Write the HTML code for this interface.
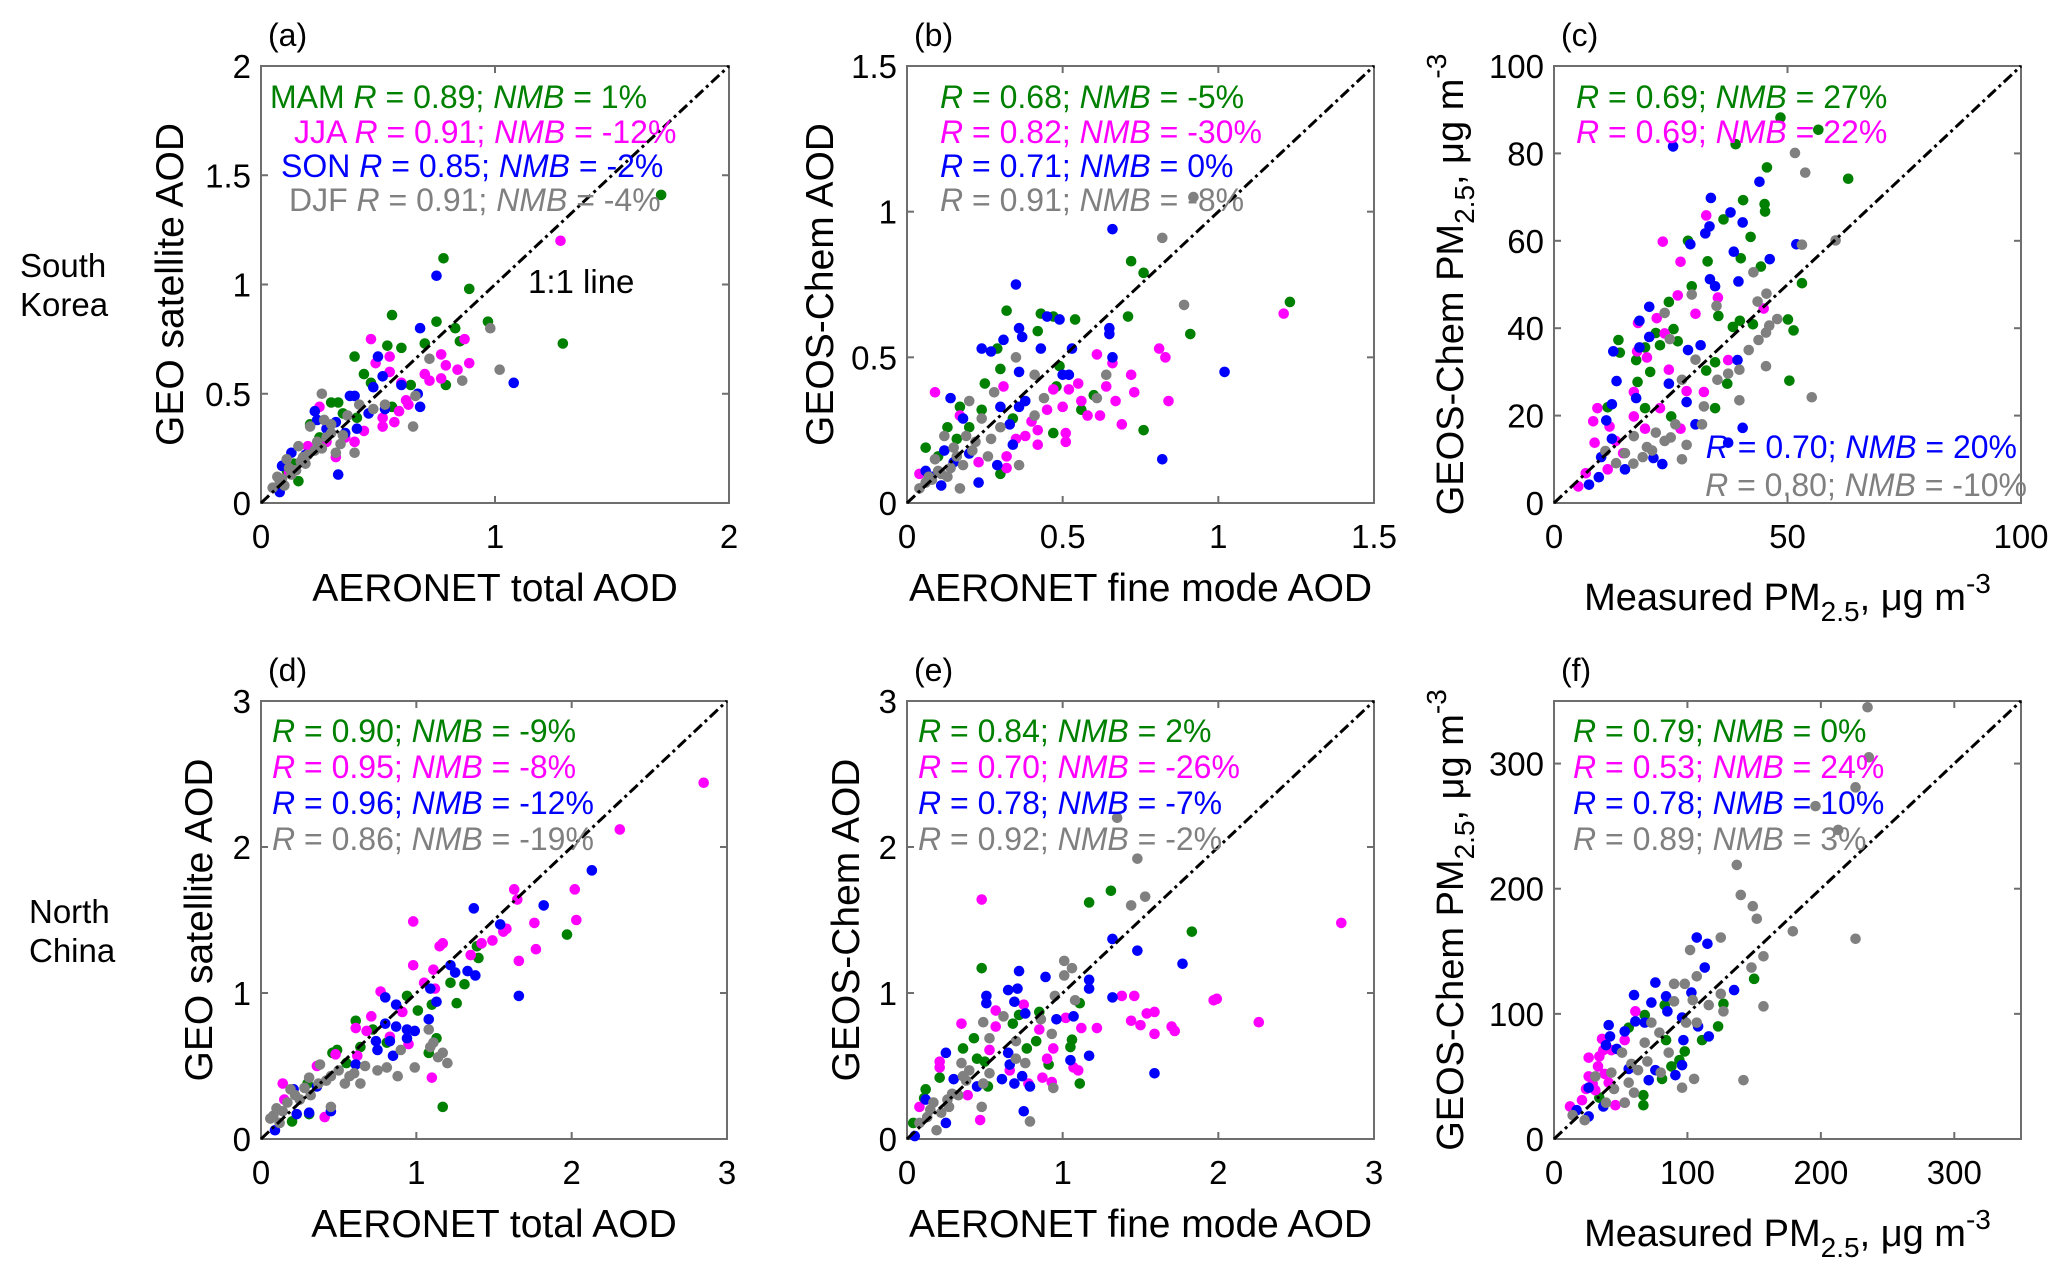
<!DOCTYPE html>
<html><head><meta charset="utf-8">
<style>
html,body{margin:0;padding:0;background:#fff;}
svg{display:block;font-family:"Liberation Sans",Arial,sans-serif;}
</style></head>
<body>
<svg id="fig" width="2067" height="1283" viewBox="0 0 2067 1283" xmlns="http://www.w3.org/2000/svg"></svg>
<script>
// ---- data (x = observed, y = model/satellite) ----
const aMAM=[[0.78,1.12],[0.89,0.98],[0.56,0.86],[0.75,0.83],[0.97,0.83],[0.83,0.80],[1.29,0.73],[1.71,1.41],[0.40,0.67],[0.54,0.72],[0.60,0.71],[0.70,0.73],[0.85,0.74],[0.79,0.54],[0.44,0.59],[0.47,0.55],[0.64,0.54],[0.30,0.46],[0.33,0.46],[0.35,0.41],[0.21,0.36],[0.16,0.10],[0.56,0.44],[0.41,0.39],[0.11,0.15],[0.14,0.18],[0.25,0.30]];
const aJJA=[[1.28,1.20],[0.47,0.75],[0.87,0.75],[0.89,0.64],[0.77,0.68],[0.79,0.63],[0.84,0.61],[0.70,0.59],[0.77,0.57],[0.72,0.56],[0.55,0.67],[0.55,0.60],[0.49,0.64],[0.60,0.55],[0.62,0.47],[0.63,0.45],[0.59,0.42],[0.52,0.39],[0.57,0.37],[0.52,0.35],[0.44,0.33],[0.40,0.28],[0.25,0.44],[0.32,0.21],[0.28,0.28],[0.20,0.26],[0.36,0.30],[0.12,0.14]];
const aSON=[[0.75,1.04],[0.68,0.80],[0.50,0.67],[0.52,0.58],[1.08,0.55],[0.68,0.44],[0.67,0.50],[0.60,0.54],[0.38,0.49],[0.40,0.49],[0.48,0.53],[0.23,0.42],[0.24,0.38],[0.32,0.37],[0.41,0.34],[0.46,0.41],[0.33,0.13],[0.13,0.23],[0.09,0.17],[0.08,0.05],[0.53,0.43],[0.36,0.32],[0.19,0.22],[0.28,0.34]];
const aDJF=[[0.98,0.80],[0.72,0.66],[1.02,0.61],[0.86,0.56],[0.65,0.35],[0.40,0.23],[0.26,0.50],[0.53,0.45],[0.48,0.43],[0.42,0.45],[0.66,0.49],[0.21,0.35],[0.30,0.32],[0.35,0.31],[0.24,0.28],[0.16,0.26],[0.11,0.20],[0.19,0.18],[0.07,0.12],[0.05,0.07],[0.32,0.23],[0.27,0.38],[0.15,0.15],[0.23,0.24],[0.10,0.08],[0.34,0.27],[0.13,0.13],[0.18,0.21],[0.28,0.30],[0.08,0.10],[0.12,0.16],[0.20,0.22],[0.26,0.25],[0.30,0.36],[0.37,0.40],[0.17,0.19],[0.09,0.11]];

const bMAM=[[0.72,0.83],[0.76,0.79],[0.32,0.66],[0.43,0.65],[0.47,0.64],[0.54,0.63],[0.71,0.64],[0.42,0.59],[0.91,0.58],[1.23,0.69],[0.29,0.53],[0.30,0.46],[0.25,0.41],[0.49,0.47],[0.76,0.25],[0.47,0.24],[0.56,0.32],[0.17,0.33],[0.24,0.32],[0.06,0.19],[0.13,0.26],[0.30,0.10],[0.20,0.26],[0.60,0.37],[0.48,0.40],[0.34,0.29],[0.10,0.16],[0.16,0.22]];
const bJJA=[[1.21,0.65],[0.81,0.53],[0.83,0.50],[0.61,0.51],[0.72,0.44],[0.66,0.48],[0.55,0.41],[0.52,0.39],[0.73,0.38],[0.84,0.35],[0.67,0.35],[0.56,0.35],[0.47,0.39],[0.45,0.32],[0.50,0.33],[0.58,0.30],[0.62,0.30],[0.69,0.27],[0.42,0.25],[0.51,0.24],[0.42,0.20],[0.51,0.21],[0.38,0.23],[0.09,0.38],[0.31,0.40],[0.32,0.12],[0.32,0.16],[0.23,0.14],[0.17,0.30],[0.04,0.10],[0.64,0.40],[0.40,0.28],[0.35,0.22]];
const bSON=[[0.66,0.94],[0.35,0.75],[0.45,0.64],[0.49,0.63],[0.36,0.60],[0.65,0.60],[0.65,0.58],[0.37,0.57],[0.31,0.56],[0.24,0.53],[0.27,0.52],[0.43,0.53],[0.53,0.53],[0.66,0.50],[1.02,0.45],[0.36,0.45],[0.50,0.44],[0.52,0.44],[0.14,0.36],[0.30,0.33],[0.36,0.33],[0.38,0.35],[0.18,0.29],[0.33,0.27],[0.34,0.20],[0.29,0.13],[0.23,0.07],[0.82,0.15],[0.12,0.18],[0.06,0.11],[0.11,0.06],[0.20,0.17],[0.08,0.09],[0.15,0.14]];
const bDJF=[[0.92,1.05],[0.82,0.91],[0.89,0.68],[0.35,0.50],[0.41,0.44],[0.64,0.44],[0.28,0.38],[0.44,0.36],[0.61,0.36],[0.20,0.35],[0.41,0.30],[0.24,0.29],[0.36,0.13],[0.17,0.05],[0.12,0.23],[0.15,0.19],[0.18,0.13],[0.26,0.16],[0.27,0.22],[0.08,0.08],[0.04,0.05],[0.13,0.09],[0.22,0.21],[0.30,0.26],[0.09,0.15],[0.19,0.23],[0.06,0.07],[0.10,0.11],[0.14,0.12],[0.11,0.10],[0.16,0.16],[0.07,0.09],[0.21,0.18]];

const cMAM=[[48.5,88.2],[56.6,85.4],[38.9,82.1],[45.6,76.8],[63,74.2],[40.5,69.3],[45.1,68.4],[45.2,66.7],[36.3,64.9],[42.1,60.9],[32.9,55.3],[40,56],[44.3,54.1],[53.1,50.3],[28.7,60],[24.6,46],[29.5,49.6],[35.2,42.8],[39.8,41.7],[42.6,40.9],[50.1,42],[51.3,39.5],[50.4,28],[38.3,40.3],[34.5,32.2],[13.8,37.3],[14.1,34.4],[17.6,32.7],[19.5,35.6],[21.8,38.9],[22.7,36.1],[25.6,39.8],[26.5,37],[34.5,21.7],[17.9,27.7],[19.5,21.7],[20.6,30],[37.1,27.3],[32.6,30.3],[25.1,19.8],[11.5,21.9]];
const cJJA=[[32.6,65.8],[23.3,59.8],[27.1,55.2],[35.1,47],[30.3,43.3],[44.9,44.5],[18,41.2],[22,42.3],[26.5,47.5],[37.3,32.7],[17.8,34.7],[19.9,33.3],[24.6,30.5],[9.3,21.7],[8.4,18.7],[8.7,13.8],[6.8,6.8],[5.2,3.8],[11.9,17.5],[13.2,14.2],[17.1,19.8],[19.5,17],[22.7,21.7],[28.4,25.6],[32.1,25.4],[27.1,17],[11.5,7.7],[14.8,11.4],[17.1,25.4],[23.7,38.8]];
const cSON=[[25.5,81.6],[44,73.5],[33.6,69.8],[37.8,66.5],[40.4,64.2],[33.3,63.3],[32.4,61.7],[29.2,59.2],[38.5,57.5],[46.2,55.8],[51.9,59.2],[33.4,51.2],[34.5,49.6],[39.5,50.7],[20.4,44.9],[18.3,41.7],[12.7,34.7],[13.4,27.9],[20.4,38],[18.3,35.6],[31.4,36.1],[28.7,35],[39.3,32.7],[24.6,27.3],[17.6,24],[12.4,22.6],[11.2,18.9],[12.4,14.7],[10.1,10.5],[9.6,5.9],[7.5,4.2],[21.3,10.3],[23.2,8.9],[40.4,17.2],[37.3,13.8],[15.2,7.7],[28.4,23.1],[30.3,18]];
const cDJF=[[51.6,80.1],[53.8,75.6],[53.1,59.1],[60.3,60.1],[42.7,52.8],[43.6,46.1],[45.5,47.9],[47.8,42.1],[46.1,40.6],[45.4,39],[43.8,37.3],[41.7,35],[45.4,31.3],[55.2,24.2],[39.7,23.5],[34.8,45.1],[23.7,43.5],[24.8,37.5],[27.4,28.2],[29.5,47.7],[32.1,22.1],[31.7,18],[27.4,10],[28.4,13.3],[21.8,16.1],[23.7,14.2],[19.9,12.8],[15.2,11.4],[13.3,9.1],[11,11.9],[35,28.2],[37.3,29.6],[39.7,30.5],[17.1,15.3],[19,10.5],[30.3,32.8],[25,15],[21,12],[26,18],[17,9]];

const dMAM=[[1.97,1.40],[1.17,0.22],[1.39,1.32],[1.40,1.24],[1.31,1.06],[1.26,0.93],[1.01,0.88],[1.10,0.92],[0.94,0.98],[1.13,0.69],[1.08,0.59],[0.61,0.81],[0.81,0.66],[0.49,0.61],[0.46,0.59],[0.72,0.75],[0.30,0.38],[0.20,0.12],[0.31,0.17],[0.64,0.63],[1.22,1.07],[0.55,0.52]];
const dJJA=[[2.85,2.44],[2.31,2.12],[2.02,1.71],[2.03,1.50],[1.63,1.71],[1.65,1.64],[1.76,1.48],[1.77,1.30],[1.66,1.22],[1.58,1.44],[1.56,1.42],[1.49,1.36],[1.42,1.34],[1.35,1.26],[0.98,1.49],[0.98,1.19],[1.15,1.32],[1.17,1.34],[1.11,1.16],[1.05,1.07],[1.12,1.03],[0.77,1.01],[0.91,0.87],[1.10,0.42],[0.68,0.74],[0.61,0.76],[0.71,0.84],[0.83,0.70],[0.95,0.65],[0.48,0.58],[0.62,0.57],[0.14,0.38],[0.41,0.15],[0.15,0.27],[0.36,0.50]];
const dSON=[[2.13,1.84],[1.82,1.60],[1.37,1.58],[1.54,1.47],[1.66,0.98],[1.38,1.12],[1.33,1.15],[1.22,1.19],[1.25,1.14],[1.09,1.03],[1.13,0.94],[1.08,0.82],[0.80,0.97],[0.87,0.92],[0.80,0.79],[0.87,0.77],[0.94,0.75],[0.99,0.74],[0.94,0.69],[0.83,0.67],[0.74,0.67],[0.75,0.61],[0.85,0.57],[0.61,0.51],[0.45,0.19],[0.31,0.18],[0.23,0.17],[0.09,0.06],[0.36,0.36],[0.21,0.34]];
const dDJF=[[1.08,0.75],[1.09,0.63],[1.11,0.66],[1.17,0.59],[1.14,0.56],[1.20,0.52],[0.99,0.49],[0.90,0.61],[0.88,0.43],[0.75,0.47],[0.81,0.49],[0.67,0.50],[0.57,0.43],[0.54,0.38],[0.45,0.43],[0.37,0.38],[0.31,0.42],[0.38,0.51],[0.19,0.34],[0.25,0.27],[0.45,0.22],[0.10,0.21],[0.06,0.14],[0.12,0.11],[0.64,0.38],[0.50,0.47],[0.32,0.30],[0.17,0.25],[0.08,0.16],[0.14,0.19],[0.60,0.45],[0.42,0.40],[0.22,0.30],[0.28,0.35]];

const eMAM=[[1.31,1.70],[1.17,1.62],[1.83,1.42],[0.48,1.17],[1.11,0.93],[0.85,0.87],[0.72,0.85],[0.68,0.79],[1.06,0.68],[1.05,0.63],[0.83,0.67],[0.77,0.62],[0.36,0.62],[0.43,0.69],[0.45,0.55],[0.91,0.51],[1.11,0.38],[0.21,0.42],[0.12,0.34],[0.11,0.28],[0.52,0.36],[0.04,0.11],[0.50,0.53]];
const eJJA=[[2.79,1.48],[0.48,1.64],[1.97,0.95],[1.99,0.96],[2.26,0.80],[1.59,0.87],[1.54,0.86],[1.44,0.81],[1.50,0.78],[1.59,0.72],[1.70,0.77],[1.72,0.74],[1.38,0.98],[1.46,0.98],[1.22,0.76],[1.12,0.76],[1.02,0.83],[1.07,0.49],[1.10,0.47],[0.94,0.62],[0.90,0.55],[0.85,0.75],[0.93,0.39],[0.87,0.42],[0.78,0.38],[0.75,0.92],[0.57,0.88],[0.57,0.77],[0.35,0.79],[0.53,0.61],[0.21,0.53],[0.21,0.49],[0.47,0.13],[0.39,0.30],[0.08,0.22],[0.66,0.47]];
const eSON=[[1.32,1.37],[1.48,1.29],[1.77,1.20],[0.72,1.15],[0.89,1.11],[1.17,1.09],[1.17,1.03],[0.65,1.02],[0.71,1.03],[0.51,0.98],[0.51,0.93],[0.69,0.94],[1.32,0.97],[0.76,0.86],[0.96,0.82],[1.07,0.84],[1.17,0.57],[1.05,0.54],[1.59,0.45],[0.25,0.59],[0.65,0.59],[0.66,0.51],[0.61,0.41],[0.69,0.38],[0.74,0.43],[0.79,0.36],[0.75,0.19],[0.25,0.11],[0.45,0.36],[0.12,0.27],[0.05,0.02],[0.30,0.41]];
const eDJF=[[1.35,2.20],[1.48,1.92],[1.53,1.66],[1.44,1.60],[1.01,1.22],[1.06,1.17],[1.01,1.12],[1.08,0.95],[0.95,0.98],[0.86,0.82],[0.93,0.72],[0.70,0.67],[0.76,0.52],[0.70,0.55],[0.62,0.84],[0.49,0.80],[0.53,0.69],[0.35,0.52],[0.36,0.43],[0.49,0.38],[0.48,0.22],[0.79,0.12],[0.94,0.35],[0.53,0.45],[0.27,0.22],[0.19,0.06],[0.17,0.25],[0.08,0.11],[0.40,0.47],[0.29,0.31],[0.13,0.15],[0.22,0.18],[0.33,0.30],[0.26,0.27],[0.38,0.40],[0.15,0.20]];

const fMAM=[[150,128],[127,108],[123,90],[98,70],[94,63],[84,79],[81,48],[67,35],[67,27],[68,99],[83,107],[56,89],[111,79],[88,58],[34,33]];
const fJJA=[[61,102],[36,80],[37,71],[26,65],[34,66],[26,50],[33,58],[43,71],[53,79],[12,26],[21,31],[46,27],[53,29],[31,39],[41,45],[29,44],[38,52],[24,40]];
const fSON=[[107,161],[115,156],[113,137],[76,125],[60,115],[73,109],[84,114],[85,102],[103,117],[135,119],[96,97],[108,90],[116,82],[61,94],[41,91],[42,82],[39,75],[47,72],[53,86],[68,93],[97,79],[96,59],[91,51],[71,47],[76,55],[26,41],[37,26],[17,23],[26,18],[56,56]];
const fDJF=[[235,345],[236,305],[226,281],[196,266],[213,247],[137,219],[140,195],[149,186],[152,176],[179,166],[226,160],[125,161],[102,151],[157,146],[148,137],[157,106],[142,47],[125,116],[116,107],[127,102],[107,130],[98,124],[90,124],[90,110],[104,111],[99,93],[107,93],[79,85],[68,77],[73,93],[86,69],[105,48],[96,41],[60,37],[53,29],[39,29],[31,50],[43,53],[51,69],[23,15],[14,19],[63,55],[80,53],[56,45],[70,62],[58,60],[45,40]];

const seasons=['MAM','JJA','SON','DJF'];
const seasonColors=['#008000','#ff00ff','#0000ff','#808080'];

const aStats=[['MAM ','0.89','1%'],['JJA ','0.91','-12%'],['SON ','0.85','-2%'],['DJF ','0.91','-4%']];
const bStats=[['','0.68','-5%'],['','0.82','-30%'],['','0.71','0%'],['','0.91','-8%']];
const cStats=[['','0.69','27%'],['','0.69','22%'],['','0.70','20%'],['','0.80','-10%']];
const dStats=[['','0.90','-9%'],['','0.95','-8%'],['','0.96','-12%'],['','0.86','-19%']];
const eStats=[['','0.84','2%'],['','0.70','-26%'],['','0.78','-7%'],['','0.92','-2%']];
const fStats=[['','0.79','0%'],['','0.53','24%'],['','0.78','10%'],['','0.89','3%']];

const aTicks=[0,0.5,1,1.5,2], aXTicks=[0,1,2];
const bTicks=[0,0.5,1,1.5];
const cYTicks=[0,20,40,60,80,100], cXTicks=[0,50,100];
const dTicks=[0,1,2,3];
const fTicks=[0,100,200,300];

const svg=document.getElementById('fig');
const NS='http://www.w3.org/2000/svg';
function mk(tag,attrs,parent){const e=document.createElementNS(NS,tag);for(const k in attrs)e.setAttribute(k,attrs[k]);(parent||svg).appendChild(e);return e;}

const panels=[
 {id:'a',L:261,T:66,R:729,B:503,max:2,xt:aXTicks,yt:aTicks,data:[aMAM,aJJA,aSON,aDJF],stats:aStats,xtitle:'AERONET total AOD',ytitle:'GEO satellite AOD',ytx:170,
  statPos:[[270,108],[294,143],[281,177],[289,211]]},
 {id:'b',L:907,T:66,R:1374,B:503,max:1.5,xt:bTicks,yt:bTicks,data:[bMAM,bJJA,bSON,bDJF],stats:bStats,xtitle:'AERONET fine mode AOD',ytitle:'GEOS-Chem AOD',ytx:820,
  statPos:[[940,108],[940,143],[940,177],[940,211]]},
 {id:'c',L:1554,T:66,R:2021,B:503,max:100,xt:cXTicks,yt:cYTicks,data:[cMAM,cJJA,cSON,cDJF],stats:cStats,xtitle:'pm',ytitle:'pm',ytx:1450,
  statPos:[[1576,108],[1576,143],[2017,458,'end'],[2027,496,'end']]},
 {id:'d',L:261,T:701,R:727,B:1139,max:3,xt:dTicks,yt:dTicks,data:[dMAM,dJJA,dSON,dDJF],stats:dStats,xtitle:'AERONET total AOD',ytitle:'GEO satellite AOD',ytx:199,
  statPos:[[272,742],[272,778],[272,814],[272,850]]},
 {id:'e',L:907,T:701,R:1374,B:1139,max:3,xt:dTicks,yt:dTicks,data:[eMAM,eJJA,eSON,eDJF],stats:eStats,xtitle:'AERONET fine mode AOD',ytitle:'GEOS-Chem AOD',ytx:846,
  statPos:[[918,742],[918,778],[918,814],[918,850]]},
 {id:'f',L:1554,T:701,R:2021,B:1139,max:350,xt:fTicks,yt:fTicks,data:[fMAM,fJJA,fSON,fDJF],stats:fStats,xtitle:'pm',ytitle:'pm',ytx:1450,
  statPos:[[1573,742],[1573,778],[1573,814],[1573,850]]}
];

function fmt(v){return String(v);}

panels.forEach(p=>{
  const g=mk('g',{});
  
  
  const sx=v=>p.L+(v/p.max)*(p.R-p.L);
  const sy=v=>p.B-(v/p.max)*(p.B-p.T);
  const fr=mk('rect',{x:p.L,y:p.T,width:p.R-p.L,height:p.B-p.T,fill:'none',stroke:'#6e6e6e','stroke-width':2},g);
  
  
  p.xt.forEach(t=>{
    const x=sx(t);
    mk('line',{x1:x,y1:p.B,x2:x,y2:p.B-7,stroke:'#6e6e6e','stroke-width':2},g);
    mk('line',{x1:x,y1:p.T,x2:x,y2:p.T+7,stroke:'#6e6e6e','stroke-width':2},g);
    const tx=mk('text',{x:x,y:p.B+45,'font-size':33,'text-anchor':'middle',fill:'#000'},g);
    
    
    tx.textContent=fmt(t);
  });
  p.yt.forEach(t=>{
    const y=sy(t);
    mk('line',{x1:p.L,y1:y,x2:p.L+7,y2:y,stroke:'#6e6e6e','stroke-width':2},g);
    mk('line',{x1:p.R,y1:y,x2:p.R-7,y2:y,stroke:'#6e6e6e','stroke-width':2},g);
    const ty=mk('text',{x:p.L-10,y:y+12,'font-size':33,'text-anchor':'end',fill:'#000'},g);
    
    
    ty.textContent=fmt(t);
  });
  p.data.forEach((series,si)=>{
    const sg=mk('g',{fill:seasonColors[si]},g);
    
    
    series.forEach(pt=>{
      const c=mk('circle',{cx:sx(pt[0]),cy:sy(pt[1]),r:5.3},sg);
      
      
    });
  });
  const ln=mk('line',{x1:sx(0),y1:sy(0),x2:sx(p.max),y2:sy(p.max),stroke:'#000','stroke-width':3,'stroke-dasharray':'11,4,3,4'},g);
  
  
  p.stats.forEach((s,i)=>{
    const pos=p.statPos[i];
    const t=mk('text',{x:pos[0],y:pos[1],'font-size':32,fill:seasonColors[i],'text-anchor':pos[2]||'start'},g);
    
    
    t.innerHTML=(s[0]?'<tspan>'+s[0]+'</tspan>':'')+'<tspan font-style="italic">R</tspan> = '+s[1]+'; <tspan font-style="italic">NMB</tspan> = '+s[2];
  });
  const pl=mk('text',{x:p.L+7,y:p.T-20,'font-size':32,fill:'#000'},g);
  
  
  pl.textContent='('+p.id+')';
  const xcx=(p.L+p.R)/2;
  if(p.xtitle==='pm'){
    const xt=mk('text',{x:xcx,y:p.B+107,'font-size':38,'text-anchor':'middle',fill:'#000'},g);
    
    
    xt.innerHTML='Measured PM<tspan font-size="28" dy="11">2.5</tspan><tspan dy="-11">, μg m</tspan><tspan font-size="28" dy="-17">-3</tspan>';
    const yt=mk('text',{x:0,y:0,'font-size':38,'text-anchor':'middle',fill:'#000',transform:'translate('+(p.ytx+13)+','+((p.T+p.B)/2)+') rotate(-90)'},g);
    
    
    yt.innerHTML='GEOS-Chem PM<tspan font-size="28" dy="11">2.5</tspan><tspan dy="-11">, μg m</tspan><tspan font-size="28" dy="-17">-3</tspan>';
  } else {
    const xt=mk('text',{x:xcx,y:p.B+98,'font-size':39,'text-anchor':'middle',fill:'#000'},g);
    
    
    xt.textContent=p.xtitle;
    const yt=mk('text',{x:0,y:0,'font-size':39,'text-anchor':'middle',fill:'#000',transform:'translate('+(p.ytx+13)+','+((p.T+p.B)/2)+') rotate(-90)'},g);
    
    
    yt.textContent=p.ytitle;
  }
});

const ann=mk('text',{x:528,y:293,'font-size':33,fill:'#000'});


ann.textContent='1:1 line';

[['South',20,277],['Korea',20,316],['North',29,923],['China',29,962]].forEach(r=>{
  const t=mk('text',{x:r[1],y:r[2],'font-size':33,fill:'#000'});
  
  
  t.textContent=r[0];
});
</script>
</body></html>
